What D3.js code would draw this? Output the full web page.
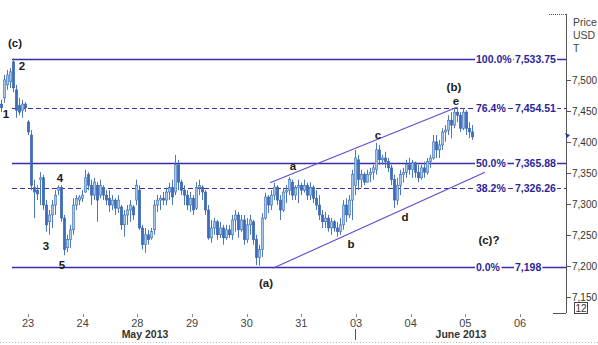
<!DOCTYPE html>
<html><head><meta charset="utf-8">
<script src="https://cdn.jsdelivr.net/npm/d3@7"></script>
<style>
html,body{margin:0;padding:0;background:#fff;}
svg{display:block;font-family:"Liberation Sans",Arial,sans-serif;}
</style></head>
<body>
<svg id="chart" width="598" height="345"></svg>
<script>
// ---- data ----
const dayLabels = ["23","24","28","29","30","31","03","04","05","06"];
const monthLabels = ["May 2013","June 2013"];
const monthDayPos = [2.14, 7.92];
const priceTicks = [7150,7200,7250,7300,7350,7400,7450,7500];

const open = [7461,7471,7492,7497,7529,7484,7459,7451,7461,7432,7411,7326,7322,7339,7342,7298,7271,7282,7298,7322,
7326,7277,7229,7242,7258,7298,7306,7309,7319,7347,7330,7314,7330,7314,7326,7314,7309,7298,7306,7293,
7295,7266,7282,7290,7295,7306,7322,7261,7234,7250,7245,7258,7298,7306,7309,7306,7319,7326,7319,7363,
7335,7322,7314,7298,7309,7293,7326,7327,7319,7290,7245,7261,7271,7250,7261,7245,7258,7250,7274,7282,
7258,7274,7242,7266,7271,7242,7213,7226,7277,7311,7298,7314,7327,7306,7290,7319,7322,7335,7314,7326,
7330,7322,7330,7314,7326,7309,7298,7282,7271,7277,7261,7271,7261,7255,7266,7298,7282,7306,7330,7371,
7339,7347,7335,7347,7351,7355,7387,7371,7374,7368,7358,7339,7306,7330,7347,7351,7363,7355,7366,7351,
7342,7358,7351,7368,7374,7400,7387,7395,7416,7419,7435,7427,7448,7443,7422,7448,7422,7416];
const high = [7468,7508,7516,7519,7535,7492,7471,7468,7464,7435,7419,7339,7330,7351,7347,7306,7290,7306,7322,7330,
7330,7282,7250,7266,7309,7314,7314,7322,7355,7351,7339,7342,7335,7339,7330,7322,7322,7314,7309,7314,
7298,7290,7298,7306,7298,7339,7330,7266,7261,7258,7261,7306,7314,7314,7319,7326,7334,7339,7379,7371,
7339,7330,7322,7319,7314,7335,7339,7330,7322,7298,7274,7277,7274,7271,7266,7266,7266,7282,7290,7287,
7282,7282,7277,7282,7274,7250,7234,7285,7318,7314,7322,7334,7330,7314,7326,7330,7343,7339,7330,7339,
7334,7339,7334,7335,7330,7322,7314,7290,7287,7282,7277,7274,7271,7277,7306,7309,7314,7355,7387,7379,
7355,7351,7355,7358,7363,7398,7395,7379,7384,7374,7363,7347,7342,7355,7358,7371,7374,7371,7368,7363,
7363,7368,7374,7379,7411,7411,7403,7422,7427,7443,7448,7455,7456,7448,7455,7451,7432,7427];
const low = [7448,7463,7484,7487,7480,7439,7443,7439,7448,7411,7322,7277,7306,7298,7290,7255,7250,7261,7282,7314,
7271,7217,7222,7229,7250,7290,7298,7303,7318,7322,7298,7306,7271,7309,7306,7298,7287,7290,7282,7285,
7258,7247,7266,7271,7274,7298,7258,7226,7221,7234,7242,7250,7287,7290,7298,7298,7306,7298,7314,7322,
7314,7298,7290,7287,7282,7290,7314,7306,7282,7242,7237,7250,7242,7245,7234,7242,7245,7242,7255,7245,
7255,7234,7237,7250,7234,7201,7200,7214,7274,7285,7290,7306,7298,7274,7287,7301,7314,7306,7306,7301,
7314,7318,7306,7306,7301,7290,7274,7261,7261,7255,7250,7255,7247,7250,7258,7271,7277,7274,7314,7322,
7326,7330,7334,7335,7339,7347,7363,7363,7358,7351,7330,7293,7298,7314,7334,7342,7347,7342,7342,7335,
7339,7342,7347,7358,7371,7374,7374,7387,7400,7411,7406,7422,7432,7416,7419,7411,7406,7403];
const close = [7455,7500,7508,7513,7487,7451,7448,7461,7455,7416,7330,7319,7316,7342,7298,7266,7282,7298,7314,7326,
7277,7226,7242,7258,7298,7309,7311,7314,7342,7330,7314,7335,7306,7330,7314,7306,7298,7306,7293,7306,
7266,7282,7290,7298,7282,7330,7261,7234,7250,7242,7255,7298,7306,7309,7306,7319,7326,7311,7363,7335,
7322,7314,7298,7309,7290,7326,7330,7319,7290,7245,7261,7271,7250,7261,7245,7258,7250,7274,7282,7258,
7274,7242,7266,7274,7242,7213,7226,7277,7311,7298,7314,7327,7306,7290,7319,7322,7339,7314,7326,7330,
7322,7330,7314,7326,7309,7298,7282,7271,7277,7261,7271,7261,7255,7266,7298,7282,7306,7347,7374,7339,
7347,7335,7347,7351,7358,7387,7371,7374,7368,7358,7339,7306,7330,7347,7351,7363,7355,7366,7351,7342,
7358,7351,7368,7374,7400,7387,7395,7416,7419,7435,7427,7448,7443,7422,7448,7422,7416,7408];

// bar timing in day units (day 0 = the "23" tick)
const firstBarDay = -0.494, barStepDays = 0.0549;

const fibPct = ["100.0%","76.4%","50.0%","38.2%","0.0%"];
const fibPrice = [7533.75,7454.51,7365.88,7326.26,7198];
const fibText = ["7,533.75","7,454.51","7,365.88","7,326.26","7,198"];
const fibDashed = [false,true,false,true,false];
const fibStartDay = -0.293;

const channelUpper = [[4.427,7334],[7.847,7456]];
const channelLower = [[4.481,7196],[8.359,7351]];

const waveText = ["(c)","2","1","4","3","5","a","b","(a)","c","d","e","(b)","(c)?"];
const waveDay  = [-0.238,-0.11,-0.402,0.585,0.329,0.622,4.847,5.908,4.353,6.402,6.896,7.829,7.792,8.432];
const wavePrice= [7560,7522,7445,7342,7232,7201,7361,7235,7172,7411,7279,7466,7489,7242];

// ---- scales ----
const svg = d3.select("#chart");
const x = d3.scaleLinear().domain([0, 9]).range([28, 520]);
const y = d3.scaleLinear().domain([7198, 7533.75]).range([267, 59]);
const axisX = 566;

const bars = open.map((o,i)=>({t:firstBarDay+i*barStepDays,o,h:high[i],l:low[i],c:close[i]}));

// ---- fib lines ----
const fibCol = "#3a2ea6";
const fg = svg.append("g");
fibPrice.forEach((p,i)=>{
  fg.append("line").attr("x1",x(fibStartDay)).attr("x2",axisX)
    .attr("y1",Math.round(y(p))+0.5).attr("y2",Math.round(y(p))+0.5)
    .attr("stroke",fibCol).attr("stroke-width",fibDashed[i]?1:1.6)
    .attr("stroke-dasharray",fibDashed[i]?"5,3":null);
});

// ---- channel ----
const line = d3.line().x(d=>x(d[0])).y(d=>y(d[1]));
[channelUpper, channelLower].forEach(c=>{
  svg.append("path").attr("d",line(c)).attr("fill","none").attr("stroke","#5b4bd0").attr("stroke-width",1.1);
});

// ---- candles ----
const cg = svg.append("g");
bars.forEach(b=>{
  const cx = Math.round(x(b.t))+0.5;
  cg.append("line").attr("x1",cx).attr("x2",cx).attr("y1",y(b.h)).attr("y2",y(b.l))
    .attr("stroke","#4a78bf").attr("stroke-width",1);
  const top = y(Math.max(b.o,b.c)), bot = y(Math.min(b.o,b.c));
  cg.append("rect").attr("x",cx-1.25).attr("y",top).attr("width",2.5).attr("height",Math.max(1,bot-top))
    .attr("fill", b.c>=b.o ? "#a4c8ea" : "#3d6db8").attr("stroke","#3563ae").attr("stroke-width",0.5);
});

// ---- fib labels ----
fibPrice.forEach((p,i)=>{
  const yy = Math.round(y(p))+0.5;
  [[fibPct[i],476],[fibText[i],515]].forEach(([t,xx])=>{
    const tx = svg.append("text").attr("x",xx).attr("y",yy).attr("dy","0.36em")
      .attr("font-size","10.5px").attr("font-weight","bold").attr("fill","#2b1f9c").text(t);
    const bb = tx.node().getBBox();
    svg.insert("rect","text").attr("x",bb.x-1).attr("y",bb.y).attr("width",bb.width+2).attr("height",bb.height).attr("fill","#fff");
  });
});
svg.selectAll("text").raise();

// ---- wave labels ----
waveText.forEach((t,i)=>{
  svg.append("text").attr("x",x(waveDay[i])).attr("y",y(wavePrice[i])).attr("dy","0.36em")
    .attr("text-anchor","middle").attr("font-size","11.5px").attr("font-weight","bold")
    .attr("fill","#1a1a1a").text(t);
});

// ---- right axis ----
const ax = svg.append("g").attr("stroke","#555");
ax.append("line").attr("x1",axisX+0.5).attr("x2",axisX+0.5).attr("y1",14).attr("y2",313);
ax.append("line").attr("x1",549).attr("x2",axisX).attr("y1",14.5).attr("y2",14.5).attr("stroke-dasharray","1,1");
ax.append("line").attr("x1",553).attr("x2",axisX).attr("y1",313.5).attr("y2",313.5);
priceTicks.forEach(p=>{
  const yy = Math.round(y(p))+0.5;
  ax.append("line").attr("x1",axisX).attr("x2",axisX+5).attr("y1",yy).attr("y2",yy);
  svg.append("text").attr("x",572).attr("y",yy).attr("dy","0.36em").attr("font-size","10px")
    .attr("fill","#333").text(d3.format(",")(p));
});
["Price","USD","T"].forEach((t,i)=>{
  svg.append("text").attr("x",573).attr("y",26+i*13).attr("font-size","10.5px").attr("fill","#444").text(t);
});
// last price marker
const lastY = y(close[close.length-1]);
svg.append("path").attr("d",`M${axisX-1},${lastY-4} l5,2 l-3,3 z`).attr("fill","#1e3f9a");
// "12" box
svg.append("rect").attr("x",574.5).attr("y",302.5).attr("width",13).attr("height",11).attr("fill","#fff").attr("stroke","#444");
svg.append("text").attr("x",581).attr("y",311.5).attr("text-anchor","middle").attr("font-size","10px").attr("fill","#333").text("12");

// ---- x axis ----
dayLabels.forEach((d,i)=>{
  svg.append("line").attr("x1",Math.round(x(i))+0.5).attr("x2",Math.round(x(i))+0.5).attr("y1",314).attr("y2",317).attr("stroke","#888");
  svg.append("text").attr("x",x(i)).attr("y",327).attr("text-anchor","middle").attr("font-size","11px").attr("fill","#444").text(d);
});
monthLabels.forEach((m,i)=>{
  svg.append("text").attr("x",x(monthDayPos[i])).attr("y",338).attr("text-anchor","middle")
    .attr("font-size","10.5px").attr("font-weight","bold").attr("fill","#333").text(m);
});
svg.append("line").attr("x1",Math.round(x(5.98))+0.5).attr("x2",Math.round(x(5.98))+0.5).attr("y1",329).attr("y2",340).attr("stroke","#555");
svg.append("line").attr("x1",0).attr("x2",598).attr("y1",342.5).attr("y2",342.5).attr("stroke","#bbb").attr("stroke-dasharray","1,2");
</script>
</body></html>
